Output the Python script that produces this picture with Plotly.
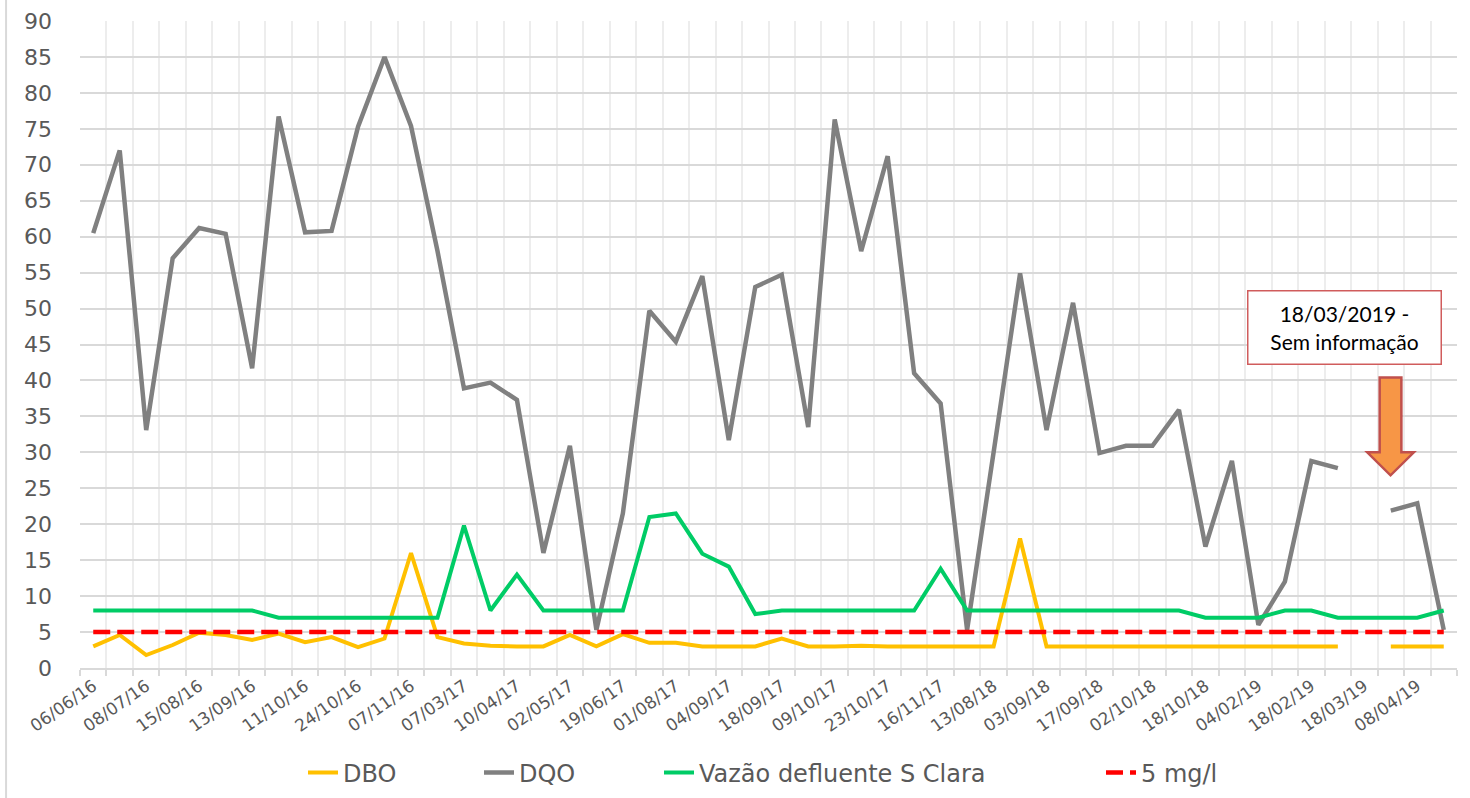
import plotly.graph_objects as go

# Tick labels (every other sample date is labelled on the category axis)
tick_labels = ["06/06/16", "08/07/16", "15/08/16", "13/09/16", "11/10/16", "24/10/16",
               "07/11/16", "07/03/17", "10/04/17", "02/05/17", "19/06/17", "01/08/17",
               "04/09/17", "18/09/17", "09/10/17", "23/10/17", "16/11/17", "13/08/18",
               "03/09/18", "17/09/18", "02/10/18", "18/10/18", "04/02/19", "18/02/19",
               "18/03/19", "08/04/19"]

dbo = [3.0, 4.6, 1.8, 3.2, 4.9, 4.6, 3.9, 4.8, 3.6, 4.3,
       2.9, 4.1, 16.0, 4.3, 3.4, 3.1, 3.0, 3.0, 4.6, 3.0,
       4.7, 3.5, 3.5, 3.0, 3.0, 3.0, 4.1, 3.0, 3.0, 3.1,
       3.0, 3.0, 3.0, 3.0, 3.0, 18.0, 3.0, 3.0, 3.0, 3.0,
       3.0, 3.0, 3.0, 3.0, 3.0, 3.0, 3.0, 3.0, None, 3.0,
       3.0, 3.0]

dqo = [60.5, 72.0, 33.1, 57.0, 61.2, 60.4, 41.7, 76.7, 60.6, 60.8,
       75.3, 85.0, 75.4, 58.0, 38.9, 39.7, 37.3, 16.0, 30.9, 5.3,
       21.5, 49.7, 45.4, 54.5, 31.7, 53.0, 54.7, 33.5, 76.3, 58.0,
       71.2, 41.0, 36.8, 5.3, 30.0, 54.9, 33.1, 50.8, 29.9, 30.9,
       30.9, 35.9, 16.9, 28.8, 6.0, 12.0, 28.8, 27.8, None, 21.9,
       22.9, 5.3]

vazao = [8, 8, 8, 8, 8, 8, 8, 7, 7, 7,
         7, 7, 7, 7, 19.8, 8, 13.0, 8, 8, 8,
         8, 21.0, 21.5, 15.9, 14.1, 7.5, 8, 8, 8, 8,
         8, 8, 13.8, 8, 8, 8, 8, 8, 8, 8,
         8, 8, 7, 7, 7, 8, 8, 7, 7, 7,
         7, 8]

limite = [5, 5, 5, 5, 5, 5, 5, 5, 5, 5,
          5, 5, 5, 5, 5, 5, 5, 5, 5, 5,
          5, 5, 5, 5, 5, 5, 5, 5, 5, 5,
          5, 5, 5, 5, 5, 5, 5, 5, 5, 5,
          5, 5, 5, 5, 5, 5, 5, 5, 5, 5,
          5, 5]

x = list(range(len(dqo)))
tick_positions = x[::2]

fig = go.Figure()
fig.add_trace(go.Scatter(x=x, y=dbo, name="DBO", mode="lines", legend="legend",
                         line=dict(color="#FFC000", width=4)))
fig.add_trace(go.Scatter(x=x, y=dqo, name="DQO", mode="lines", legend="legend2",
                         line=dict(color="#808080", width=4.5)))
fig.add_trace(go.Scatter(x=x, y=vazao, name="Vazão defluente S Clara", mode="lines",
                         legend="legend3", line=dict(color="#00CC66", width=4)))
fig.add_trace(go.Scatter(x=x, y=limite, name="5 mg/l", mode="lines", legend="legend4",
                         line=dict(color="#FF0000", width=4.5, dash="17px,7px")))

tick_font = dict(family="DejaVu Sans", size=17, color="#595959")
legend_font = dict(family="DejaVu Sans", size=24, color="#595959")


def legend_at(px_left):
    return dict(orientation="h", xref="container", yref="container",
                x=px_left / 1470, xanchor="left",
                y=1 - 773 / 798, yanchor="middle", font=legend_font,
                bgcolor="rgba(0,0,0,0)", itemwidth=30)


fig.update_layout(
    width=1470, height=798,
    margin=dict(l=80, r=13, t=21, b=130, autoexpand=False),
    plot_bgcolor="white", paper_bgcolor="white",
    showlegend=True,
    legend=legend_at(303),
    legend2=legend_at(479),
    legend3=legend_at(659),
    legend4=legend_at(1101),
    xaxis=dict(range=[-0.5, len(x) - 0.5], tickmode="array", tickvals=tick_positions,
               ticktext=tick_labels, tickangle=-35, tickfont=tick_font, automargin=False,
               showgrid=False, ticks="", showline=True, linecolor="#D9D9D9", linewidth=1.5,
               zeroline=False,
               minor=dict(tickmode="linear", tick0=-0.5, dtick=1, showgrid=True,
                          gridcolor="#EDEDED", gridwidth=2, ticks="outside", ticklen=6,
                          tickcolor="#D9D9D9", tickwidth=1.5)),
    yaxis=dict(range=[0, 90], dtick=5, showgrid=True, gridcolor="#D9D9D9", gridwidth=1.5,
               zeroline=False, showline=False, ticks="", automargin=False,
               tickfont=dict(family="DejaVu Sans", size=22, color="#595959"),
               ticklabelstandoff=27),
)

# Note box
fig.add_annotation(x=47.25, y=47.4, xref="x", yref="y",
                   text="18/03/2019 -<br>Sem informação", showarrow=False,
                   font=dict(family="Lato", size=21, color="#000000"),
                   bgcolor="white", bordercolor="#D05C5C", borderwidth=1.5,
                   width=190, height=70, align="center")

# Down arrow pointing at missing sample
fig.add_shape(type="path", xref="x", yref="y",
              path="M 48.58,40.4 L 49.4,40.4 L 49.4,30.0 L 49.87,30.0 L 48.99,26.8 "
                   "L 48.11,30.0 L 48.58,30.0 Z",
              fillcolor="#F79646", line=dict(color="#C0504D", width=2.5))

# Chart frame left edge
fig.add_shape(type="line", xref="paper", yref="paper", x0=-0.0537, x1=-0.0537,
              y0=-0.21, y1=1.04, line=dict(color="#D9D9D9", width=2))

fig.write_html("out.html", config={"displayModeBar": False},
               post_script="document.body.style.margin='0px';"
                           "document.body.style.overflow='hidden';")
